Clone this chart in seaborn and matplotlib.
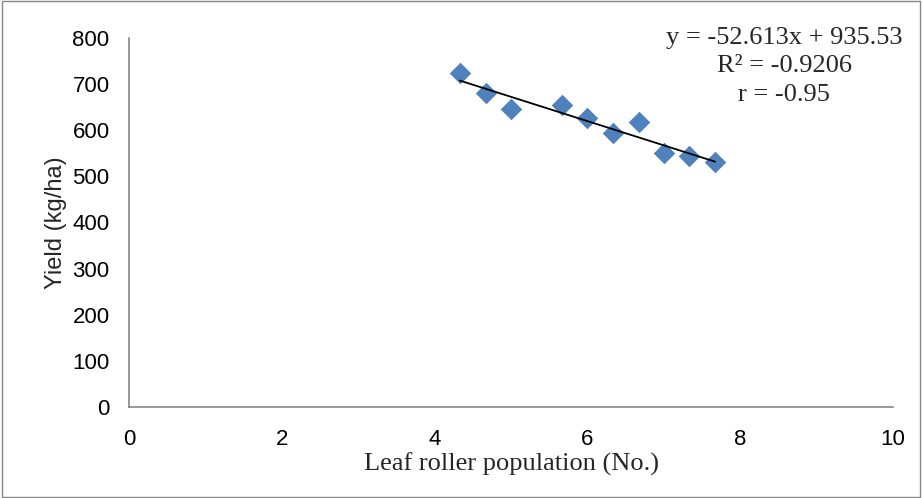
import numpy as np
import pandas as pd
import matplotlib.pyplot as plt
import seaborn as sns

# leaf roller population vs yield
population = [4.33, 4.67, 5.0, 5.67, 6.0, 6.33, 6.67, 7.0, 7.33, 7.67]
yield_kg = [724, 681, 646, 655, 627, 594, 618, 551, 544, 531]
slope = -52.613
intercept = 935.53
eq_lines = ['y = -52.613x + 935.53', 'R² = -0.9206', 'r = -0.95']

df = pd.DataFrame({'pop': population, 'yield': yield_kg})

sns.set_style('white')
plt.rcParams['font.family'] = ['Liberation Sans', 'DejaVu Sans']

fig = plt.figure(figsize=(9.22, 4.98), dpi=100)
ax = fig.add_axes([129 / 922, 1 - 407 / 498, (893 - 129) / 922, (407 - 38) / 498])

sns.scatterplot(x='pop', y='yield', data=df, ax=ax, marker='D', s=120,
                color='#4F81BD', edgecolor='#4F81BD', linewidth=0, zorder=3)

# linear trendline across the data range
xs = np.array([min(population), max(population)])
ax.plot(xs, slope * xs + intercept, color='black', lw=1.3, zorder=4)

ax.set_xlim(0, 10)
ax.set_ylim(0, 800)
ax.set_xticks(range(0, 11, 2))
ax.set_yticks(range(0, 801, 100))

for side in ['top', 'right']:
    ax.spines[side].set_visible(False)
for side in ['left', 'bottom']:
    ax.spines[side].set_color('#868686')
    ax.spines[side].set_linewidth(1.2)
ax.tick_params(axis='both', colors='#868686', length=6, width=1.2, direction='out',
               labelcolor='black', labelsize=16)
ax.tick_params(axis='x', pad=10)
ax.tick_params(axis='y', pad=8)

ax.set_xlabel('Leaf roller population (No.)', family='Liberation Serif', fontsize=19, labelpad=2)
ax.set_ylabel('Yield (kg/ha)', fontsize=17, labelpad=4)

fig.text(784 / 922, 1 - 27 / 498, '\n'.join(eq_lines), ha='center', va='top',
         family='Liberation Serif', fontsize=19, linespacing=1.38,
         multialignment='center')

# outer chart border
fig.patches.append(plt.Rectangle((0.002, 0.002), 0.996, 0.996, transform=fig.transFigure,
                                 fill=False, edgecolor='#868686', lw=1))

plt.savefig('out.png', dpi=100)
plt.close()
